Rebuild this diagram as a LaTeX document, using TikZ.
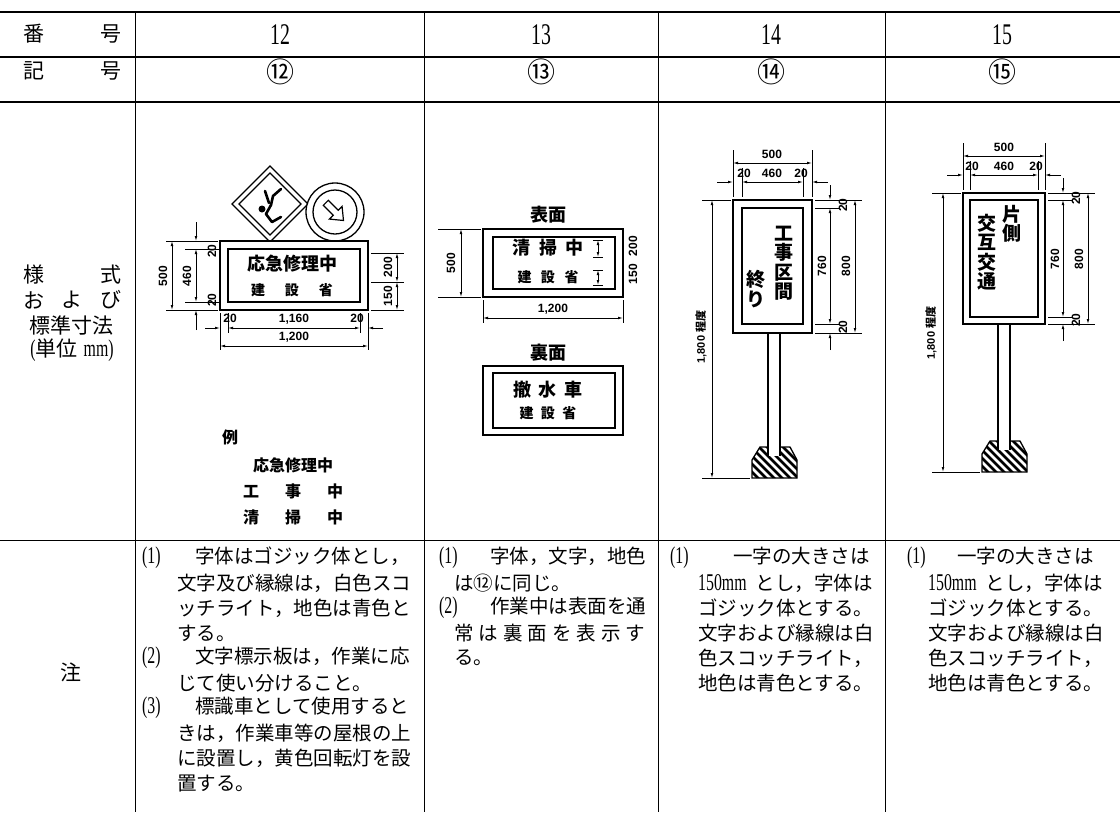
\documentclass[tikz,border=0pt]{standalone}
\usepackage{fontspec}
\setmainfont{Liberation Serif}
\newfontfamily\jp{Noto Sans CJK JP}
\newfontfamily\numf[FakeStretch=0.66]{Liberation Serif}
\newfontfamily\dimf{Liberation Sans}
\usetikzlibrary{arrows.meta}
\newcommand\mypn[1]{{\numf\fontsize{24}{25}\selectfont #1}}
\newcommand\mybase{%
  \fill[white] (-14,-31) -- (-22,-18) -- (-22,0) -- (23,0) -- (23,-18) -- (16,-31) -- cycle;
  \begin{scope}
    \clip (-14,-31) -- (-22,-18) -- (-22,0) -- (23,0) -- (23,-18) -- (16,-31) -- cycle;
    \foreach \k in {0,...,13} \draw[line width=2.6pt] (-80+8*\k,-40) -- (-30+8*\k,10);
    \fill[white] (-6,-32) rectangle (6,-22);
  \end{scope}
  \draw[line width=1.3pt] (-6,-31) -- (-14,-31) -- (-22,-18) -- (-22,0) -- (23,0) -- (23,-18) -- (16,-31) -- (6,-31);
  \draw[line width=1.3pt] (-6,-40) -- (-6,-22) (6,-40) -- (6,-22);
}
\begin{document}
\begin{tikzpicture}[x=1pt,y=-1pt,
  thick rule/.style={line width=2.4pt},
  rule/.style={line width=0.9pt},
  dimln/.style={line width=0.7pt},
  dimar/.style={dimln,{Latex[length=5pt,width=2.6pt]}-{Latex[length=5pt,width=2.6pt]}},
  dimto/.style={dimln,-{Latex[length=5pt,width=2.6pt]}},
  board/.style={draw,line width=1.4pt,fill=white},
  inboard/.style={draw,line width=1.4pt},
  jpt/.style={inner sep=0pt,font=\jp\fontsize{21}{21}\selectfont},
  circn/.style={inner sep=0pt,font=\jp\fontsize{28}{28}\selectfont},
  hnum/.style={inner sep=0pt,font=\numf\fontsize{30}{30}\selectfont},
  note/.style={inner sep=0pt,anchor=west,font=\jp\fontsize{19.5}{25}\selectfont},
  dl/.style={inner sep=0pt,font=\dimf\bfseries\fontsize{12}{12}\selectfont},
  dls/.style={inner sep=0pt,font=\dimf\bfseries\fontsize{11}{11}\selectfont},
  sgA/.style={inner sep=0pt,font=\jp\bfseries\fontsize{18}{18}\selectfont},
  sgB/.style={inner sep=0pt,font=\jp\bfseries\fontsize{14}{14}\selectfont},
  sgC/.style={inner sep=0pt,font=\jp\bfseries\fontsize{16}{16}\selectfont},
  sgV/.style={inner sep=0pt,align=center,font=\jp\bfseries\fontsize{19}{19.5}\selectfont},
]
\useasboundingbox (0,0) rectangle (1120,812);
\fill[white] (0,0) rectangle (1120,812);

% ---------- table rules ----------
\draw[thick rule] (0,12) -- (1120,12);
\draw[thick rule] (0,57) -- (1120,57);
\draw[thick rule] (0,102) -- (1120,102);
\draw[rule] (0,540) -- (1120,540);
\foreach \x in {135,424,658,885} \draw[rule] (\x,12) -- (\x,812);

% ---------- header rows ----------
\node[jpt] (h1a) at (34,34) {番};
\node[jpt] (h1b) at (111,34) {号};
\node[hnum] (h12) at (280,35) {12};
\node[hnum] (h13) at (541,35) {13};
\node[hnum] (h14) at (771,35) {14};
\node[hnum] (h15) at (1002,35) {15};
\node[jpt] (h2a) at (34,71) {記};
\node[jpt] (h2b) at (111,71) {号};
\node[circn] (k12) at (280,72) {⑫};
\node[circn] (k13) at (541,72) {⑬};
\node[circn] (k14) at (771,72) {⑭};
\node[circn] (k15) at (1002,72) {⑮};

% ---------- row labels ----------
\node[jpt] (r1a) at (34,275) {様};
\node[jpt] (r1b) at (111,275) {式};
\node[jpt] (r2a) at (34,300) {お};
\node[jpt] (r2b) at (72,300) {よ};
\node[jpt] (r2c) at (111,300) {び};
\node[jpt] (r3) at (72,325) {標準寸法};
\node[jpt] (r4) at (72,350) {\mypn{(}単位\hspace{6pt}\mypn{mm)}};
\node[jpt] (r5) at (71,672) {注};

% ---------- column 12 ----------
% diamond sign
\draw[line width=1.3pt,fill=white] (270,166) -- (308,204) -- (270,242) -- (232,204) -- cycle;
\draw[line width=1.3pt] (270,173) -- (301,204) -- (270,235) -- (239,204) -- cycle;
\draw[line width=2.6pt,line cap=round,line join=round] (281,189) -- (273,196) -- (271,205) -- (266,214) -- (272,222) -- (281,217);
\draw[line width=2.6pt,line cap=round] (265,191) -- (269,203);
\fill (262,209) circle (3.5);
% round sign
\draw[line width=1.3pt,fill=white] (335,212) circle (29);
\draw[line width=1.3pt] (335,212) circle (22);
\begin{scope}[shift={(335,212)},rotate=-45]
  \draw[line width=1.2pt,fill=white] (-13,-3.5) -- (1,-3.5) -- (1,-9) -- (12,0) -- (1,9) -- (1,3.5) -- (-13,3.5) -- cycle;
\end{scope}
% board
\draw[board] (220,241) rectangle (368,310);
\draw[inboard] (228,249) rectangle (360,302);
\node[sgA] (s12a) at (292,264) {応急修理中};
\node[sgB] (s12b) at (292,290) {建\hspace{20pt}設\hspace{20pt}省};
% left dims
\draw[dimln] (166,241) -- (218,241) (166,310) -- (218,310);
\draw[dimln] (185,249) -- (219,249) (185,302) -- (219,302);
\draw[dimar] (172,241) -- (172,310);
\draw[dimar] (196,249) -- (196,302);
\draw[dimto] (196,222) -- (196,241);
\draw[dimto] (196,330) -- (196,310);
\node[dl,rotate=90] (d12a) at (163,276) {500};
\node[dl,rotate=90] (d12b) at (187,276) {460};
\node[dl,rotate=90] (d12c) at (212,251) {20};
\node[dl,rotate=90] (d12d) at (212,300) {20};
% right dims
\draw[dimln] (371,253) -- (404,253) (371,282) -- (404,282) (371,310) -- (404,310);
\draw[dimar] (397,253) -- (397,282);
\draw[dimar] (397,282) -- (397,310);
\node[dl,rotate=90] (d12e) at (388,267) {200};
\node[dl,rotate=90] (d12f) at (388,296) {150};
% bottom dims
\draw[dimln] (220,313) -- (220,350) (368,313) -- (368,350);
\draw[dimln] (228,313) -- (228,333) (360,313) -- (360,333);
\draw[dimar] (228,328) -- (360,328);
\draw[dimto] (205,328) -- (220,328);
\draw[dimto] (383,328) -- (368,328);
\draw[dimar] (220,346) -- (368,346);
\node[dl] (d12g) at (230,318) {20};
\node[dl] (d12h) at (294,319) {1,160};
\node[dl] (d12i) at (357,318) {20};
\node[dl] (d12j) at (294,337) {1,200};
% examples
\node[sgC] (e0) at (230,437) {例};
\node[sgC] (e1) at (293,465) {応急修理中};
\node[sgC] (e2) at (293,491) {工\hspace{26pt}事\hspace{26pt}中};
\node[sgC] (e3) at (293,517) {清\hspace{26pt}掃\hspace{26pt}中};

% ---------- column 13 ----------
\node[sgA] (t13a) at (548,215) {表面};
\draw[board] (483,229) rectangle (623,297);
\draw[inboard] (493,237) rectangle (615,289);
\node[sgA] (t13b) at (548,248) {清\hspace{8.5pt}掃\hspace{8.5pt}中};
\node[sgB] (t13c) at (548,277) {建\hspace{9.5pt}設\hspace{9.5pt}省};
\draw[dimar] (598,240) -- (598,257);
\draw[dimln] (593,240) -- (603,240) (593,257) -- (603,257);
\draw[dimar] (598,270) -- (598,285);
\draw[dimln] (593,270) -- (603,270) (593,285) -- (603,285);
\node[dl,rotate=90] (d13a) at (633,246) {200};
\node[dl,rotate=90] (d13b) at (633,274) {150};
\draw[dimln] (438,229) -- (481,229) (438,297) -- (481,297);
\draw[dimar] (461,229) -- (461,297);
\node[dl,rotate=90] (d13c) at (451,263) {500};
\draw[dimln] (483,300) -- (483,323) (623,300) -- (623,323);
\draw[dimar] (483,318) -- (623,318);
\node[dl] (d13d) at (553,309) {1,200};
\node[sgA] (t13d) at (548,353) {裏面};
\draw[board] (483,366) rectangle (623,435);
\draw[inboard] (493,373) rectangle (615,428);
\node[sgA] (t13e) at (548,390) {撤\hspace{7.5pt}水\hspace{7.5pt}車};
\node[sgB] (t13f) at (548,413) {建\hspace{7.5pt}設\hspace{7.5pt}省};

% ---------- column 14 ----------
\fill[white] (768,333) rectangle (780,450);
\draw[line width=1.3pt] (768,333) -- (768,450) (780,333) -- (780,450);
\begin{scope}[shift={(774,478)}]\mybase\end{scope}
\draw[board] (733,200) rectangle (812,333);
\draw[inboard] (742,208) rectangle (803,324);
\node[sgV] (s14a) at (784,263) {工\\事\\区\\間};
\node[sgV] (s14b) at (756,289) {終\\り};
% top dims
\draw[dimln] (733,150) -- (733,197) (812,150) -- (812,197);
\draw[dimln] (742,168) -- (742,197) (803,168) -- (803,197);
\draw[dimar] (733,163) -- (812,163);
\draw[dimar] (742,182) -- (803,182);
\draw[dimto] (717,182) -- (733,182);
\draw[dimto] (828,182) -- (812,182);
\node[dl] (d14a) at (772,154) {500};
\node[dl] (d14b) at (744,173) {20};
\node[dl] (d14c) at (772,173) {460};
\node[dl] (d14d) at (801,173) {20};
% right dims
\draw[dimln] (815,200) -- (862,200) (815,333) -- (862,333);
\draw[dimln] (815,208) -- (840,208) (815,324) -- (840,324);
\draw[dimto] (830,185) -- (830,200);
\draw[dimar] (830,208) -- (830,324);
\draw[dimto] (830,350) -- (830,333);
\draw[dimar] (855,200) -- (855,333);
\node[dl,rotate=90] (d14e) at (843,205) {20};
\node[dl,rotate=90] (d14f) at (822,266) {760};
\node[dl,rotate=90] (d14g) at (843,327) {20};
\node[dl,rotate=90] (d14h) at (846,266) {800};
% 1800
\draw[dimln] (702,200) -- (731,200) (702,478) -- (750,478);
\draw[dimar] (712,200) -- (712,478);
\node[dls,rotate=90] (d14i) at (701,337) {1,800 {\jp\fontsize{11}{11}\selectfont 程度}};

% ---------- column 15 ----------
\fill[white] (998,324) rectangle (1010,444);
\draw[line width=1.3pt] (998,324) -- (998,444) (1010,324) -- (1010,444);
\begin{scope}[shift={(1004,472)}]\mybase\end{scope}
\draw[board] (963,193) rectangle (1045,324);
\draw[inboard] (970,200) rectangle (1038,317);
\node[sgV] (s15a) at (1012,224) {片\\側};
\node[sgV] (s15b) at (987,252) {交\\互\\交\\通};
% top dims
\draw[dimln] (963,143) -- (963,190) (1045,143) -- (1045,190);
\draw[dimln] (970,161) -- (970,190) (1038,161) -- (1038,190);
\draw[dimar] (963,156) -- (1045,156);
\draw[dimar] (970,175) -- (1038,175);
\draw[dimto] (947,175) -- (963,175);
\draw[dimto] (1061,175) -- (1045,175);
\node[dl] (d15a) at (1004,147) {500};
\node[dl] (d15b) at (972,166) {20};
\node[dl] (d15c) at (1004,166) {460};
\node[dl] (d15d) at (1036,166) {20};
% right dims
\draw[dimln] (1048,193) -- (1095,193) (1048,324) -- (1095,324);
\draw[dimln] (1048,200) -- (1073,200) (1048,317) -- (1073,317);
\draw[dimto] (1063,178) -- (1063,193);
\draw[dimar] (1063,200) -- (1063,317);
\draw[dimto] (1063,341) -- (1063,324);
\draw[dimar] (1088,193) -- (1088,324);
\node[dl,rotate=90] (d15e) at (1076,198) {20};
\node[dl,rotate=90] (d15f) at (1055,259) {760};
\node[dl,rotate=90] (d15g) at (1076,320) {20};
\node[dl,rotate=90] (d15h) at (1079,259) {800};
% 1800
\draw[dimln] (932,193) -- (961,193) (932,472) -- (980,472);
\draw[dimar] (943,193) -- (943,472);
\node[dls,rotate=90] (d15i) at (931,333) {1,800 {\jp\fontsize{11}{11}\selectfont 程度}};

% ---------- notes ----------
\node[note] (n12a) at (142,558) {\makebox[53pt][l]{\mypn{(1)}}字体はゴジック体とし，};
\node[note] (n12b) at (177,583) {文字及び縁線は，白色スコ};
\node[note] (n12c) at (177,608) {ッチライト，地色は青色と};
\node[note] (n12d) at (177,633) {する。};
\node[note] (n12e) at (142,658) {\makebox[53pt][l]{\mypn{(2)}}文字標示板は，作業に応};
\node[note] (n12f) at (177,683) {じて使い分けること。};
\node[note] (n12g) at (142,708) {\makebox[53pt][l]{\mypn{(3)}}標識車として使用すると};
\node[note] (n12h) at (177,733) {きは，作業車等の屋根の上};
\node[note] (n12i) at (177,758) {に設置し，黄色回転灯を設};
\node[note] (n12j) at (177,783) {置する。};

\node[note] (n13a) at (439,558) {\makebox[51pt][l]{\mypn{(1)}}字体，文字，地色};
\node[note] (n13b) at (454,583) {は⑫に同じ。};
\node[note] (n13c) at (439,608) {\makebox[51pt][l]{\mypn{(2)}}作業中は表面を通};
\node[note] (n13d) at (454,633) {\makebox[191pt][s]{常\hfill は\hfill 裏\hfill 面\hfill を\hfill 表\hfill 示\hfill す}};
\node[note] (n13e) at (454,658) {る。};

\node[note] (n14a) at (670,558) {\makebox[63pt][l]{\mypn{(1)}}一字の大きさは};
\node[note] (n14b) at (698,583) {\mypn{150mm}\hspace{9pt}とし，字体は};
\node[note] (n14c) at (698,608) {ゴジック体とする。};
\node[note] (n14d) at (698,633) {文字および縁線は白};
\node[note] (n14e) at (698,658) {色スコッチライト，};
\node[note] (n14f) at (698,683) {地色は青色とする。};

\node[note] (n15a) at (907,558) {\makebox[50pt][l]{\mypn{(1)}}一字の大きさは};
\node[note] (n15b) at (928,583) {\mypn{150mm}\hspace{9pt}とし，字体は};
\node[note] (n15c) at (928,608) {ゴジック体とする。};
\node[note] (n15d) at (928,633) {文字および縁線は白};
\node[note] (n15e) at (928,658) {色スコッチライト，};
\node[note] (n15f) at (928,683) {地色は青色とする。};
\end{tikzpicture}
\end{document}
